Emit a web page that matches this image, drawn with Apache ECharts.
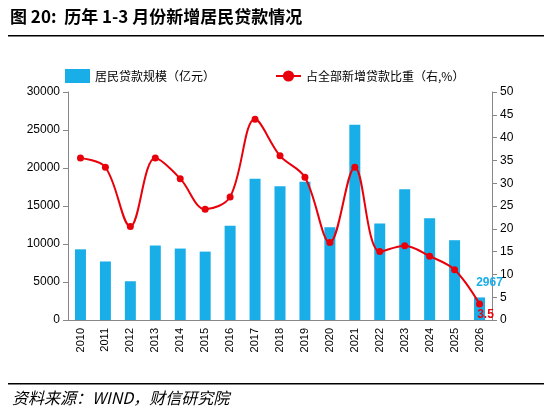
<!DOCTYPE html>
<html><head><meta charset="utf-8">
<script src="https://cdn.jsdelivr.net/npm/echarts@6/dist/echarts.min.js"></script>
<style>body{margin:0;background:#fff}#c{width:550px;height:416px}</style>
</head><body><div id="c"></div>
<script>
// 历年1-3月新增居民贷款
var years = ['2010','2011','2012','2013','2014','2015','2016','2017','2018','2019','2020','2021','2022','2023','2024','2025','2026'];
var loans = [9300,7700,5100,9800,9400,9000,12400,18600,17600,18200,12200,25700,12700,17200,13400,10500,2967];
var share = [35.5,33.5,20.5,35.5,31,24.3,27,44,36,31.3,17,33.5,15,16.3,14,11,3.5];

var chart = echarts.init(document.getElementById('c'));
chart.setOption({
  animation:false,
  graphic:[
    {type:'text',left:10,top:8,style:{text:'图 20:  历年 1-3 月份新增居民贷款情况',font:'bold 17px "Noto Sans CJK SC"',fill:'#000'}},
    {type:'rect',shape:{x:8,y:35,width:536,height:1.5},style:{fill:'#000'}},
    {type:'rect',shape:{x:8,y:383,width:536,height:1.5},style:{fill:'#000'}},
    {type:'text',left:12,top:390,style:{text:'资料来源：WIND，财信研究院',font:'italic 16px "Noto Sans CJK SC"',fill:'#000'}}
  ],
  legend:{top:64,left:60,itemGap:60,textStyle:{fontSize:12,color:'#000',fontFamily:'Noto Sans CJK SC'},
    data:[{name:'居民贷款规模（亿元）',icon:'rect'},{name:'占全部新增贷款比重（右,%）'}]},
  grid:{left:68,right:58,top:92,bottom:96},
  xAxis:{type:'category',data:years,axisLabel:{rotate:90,fontSize:11,color:'#000',interval:0},
    axisLine:{lineStyle:{color:'#888'}},axisTick:{show:false}},
  yAxis:[
    {type:'value',min:0,max:30000,interval:5000,splitLine:{show:false},axisLine:{show:true,lineStyle:{color:'#888'}},
      axisTick:{show:true},axisLabel:{fontSize:12,color:'#000',formatter:function(v){return String(v);}}},
    {type:'value',min:0,max:50,interval:5,splitLine:{show:false},axisLine:{show:true,lineStyle:{color:'#888'}},
      axisTick:{show:true},axisLabel:{fontSize:12,color:'#000'}}
  ],
  series:[
    {name:'居民贷款规模（亿元）',type:'bar',data:loans,barWidth:11,itemStyle:{color:'#1aaee8'},
      label:{show:true,position:'top',fontSize:12,fontWeight:'bold',color:'#1aaee8',offset:[10,-4],
        formatter:function(p){return p.dataIndex===16?p.value:'';}}},
    {name:'占全部新增贷款比重（右,%）',type:'line',yAxisIndex:1,data:share,smooth:0.35,symbol:'circle',symbolSize:7,
      lineStyle:{color:'#e8000b',width:2},itemStyle:{color:'#e8000b'},
      label:{show:true,position:'bottom',fontSize:12,fontWeight:'bold',color:'#e8000b',offset:[6,-4],
        formatter:function(p){return p.dataIndex===16?p.value:'';}}}
  ]
});
</script></body></html>
